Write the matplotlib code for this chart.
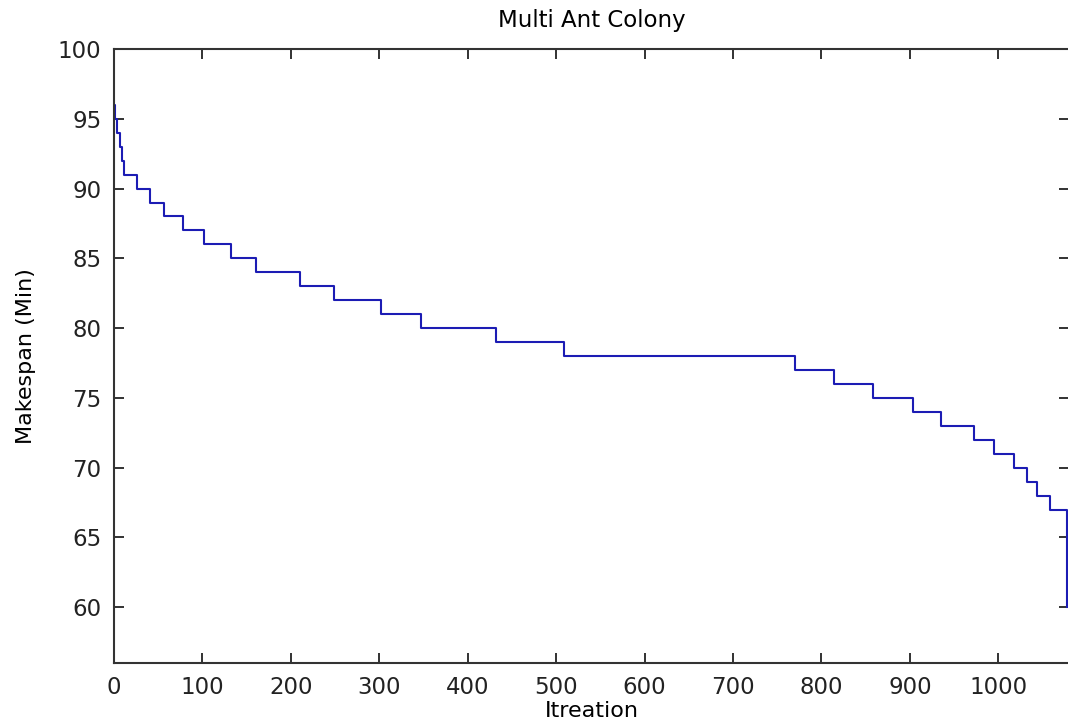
import matplotlib
matplotlib.use("Agg")
from matplotlib import pyplot as plt

plt.rcParams["font.family"] = ["DejaVu Sans"]

# iteration where each new best makespan starts, and that makespan
iters = [0, 1, 3, 7, 9, 11, 26, 41, 57, 78, 102, 132, 161, 210, 249, 302,
         347, 432, 509, 770, 814, 858, 904, 935, 972, 995, 1018, 1032,
         1044, 1058, 1078]
makespan = [96, 95, 94, 93, 92, 91, 90, 89, 88, 87, 86, 85, 84, 83, 82, 81,
            80, 79, 78, 77, 76, 75, 74, 73, 72, 71, 70, 69, 68, 67, 60]
xticks = [0, 100, 200, 300, 400, 500, 600, 700, 800, 900, 1000]
yticks = [60, 65, 70, 75, 80, 85, 90, 95, 100]

fig = plt.figure(figsize=(10.68, 7.27), dpi=100)
ax = fig.add_axes([114 / 1068, 64 / 727, 955 / 1068, 614 / 727])

ax.step(iters, makespan, where="post", color="#1c1cb4", lw=1.5)

ax.set_xlim(0, 1080)
ax.set_ylim(56, 100)
ax.set_xticks(xticks)
ax.set_yticks(yticks)
ax.tick_params(direction="in", length=7, width=1.3, top=True, right=True,
               labelsize=16.5, colors="#222222")
ax.tick_params(axis="x", pad=9)
ax.tick_params(axis="y", pad=9)
for s in ax.spines.values():
    s.set_linewidth(1.5)
    s.set_color("#333333")
ax.spines["right"].set_visible(False)

ax.set_title("Multi Ant Colony", fontsize=16.5, pad=16)
ax.set_xlabel("Itreation", fontsize=16, labelpad=2)
ax.set_ylabel("Makespan (Min)", fontsize=16, labelpad=16)

fig.savefig("out.png", dpi=100)
